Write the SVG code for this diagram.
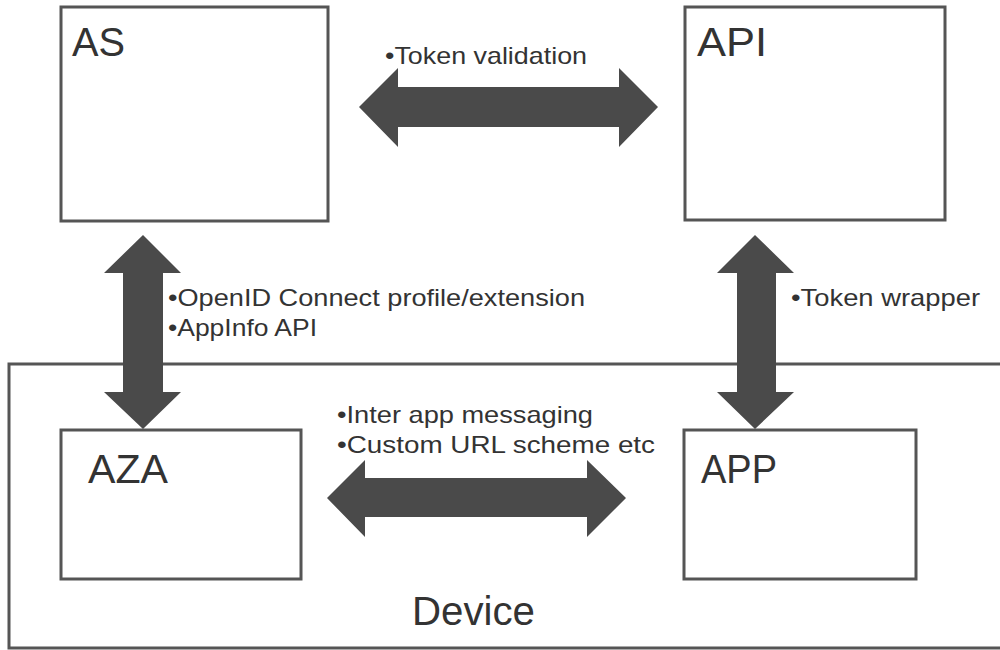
<svg xmlns="http://www.w3.org/2000/svg" width="1000" height="650" viewBox="0 0 1000 650">
<style>
.box{fill:#fff;stroke:#555;stroke-width:3}
.arrow{fill:#4a4a4a}
.big{font-family:"Liberation Sans",Arial,sans-serif;font-size:40px;fill:#333}
.lbl{font-family:"Liberation Sans",Arial,sans-serif;font-size:24px;fill:#333}
</style>
<rect width="1000" height="650" fill="#fff"/>
<g id="device">
<path class="box" d="M1003,364 L9,364 L9,648 L1003,648" fill="none"/>
<text class="big" x="412" y="625" textLength="123" lengthAdjust="spacingAndGlyphs">Device</text>
</g>
<g id="as">
<rect class="box" x="61" y="7" width="267" height="214"/>
<text class="big" x="72" y="56" textLength="53" lengthAdjust="spacingAndGlyphs">AS</text>
</g>
<g id="api">
<rect class="box" x="685" y="7" width="260" height="213"/>
<text class="big" x="697" y="56" textLength="70" lengthAdjust="spacingAndGlyphs">API</text>
</g>
<g id="aza">
<rect class="box" x="61" y="430" width="240" height="149"/>
<text class="big" x="88" y="483" textLength="80" lengthAdjust="spacingAndGlyphs">AZA</text>
</g>
<g id="app">
<rect class="box" x="684" y="430" width="232" height="149"/>
<text class="big" x="701" y="483" textLength="76" lengthAdjust="spacingAndGlyphs">APP</text>
</g>
<g id="connectors">
<polygon class="arrow" points="359,107 398,68 398,87 619,87 619,68 658,107 619,147 619,127 398,127 398,147"/>
<polygon class="arrow" points="143,235 181,273 163,273 163,392 181,392 143,429 104,392 123,392 123,273 104,273"/>
<polygon class="arrow" points="755,235 794,273 776,273 776,392 794,392 755,429 717,392 737,392 737,273 717,273"/>
<polygon class="arrow" points="327,498 365,460 365,478 587,478 587,460 626,498 587,537 587,517 365,517 365,537"/>
</g>
<g id="labels">
<text class="lbl" x="385" y="64" textLength="202" lengthAdjust="spacingAndGlyphs">•Token validation</text>
<text class="lbl" x="168" y="306" textLength="417" lengthAdjust="spacingAndGlyphs">•OpenID Connect profile/extension</text>
<text class="lbl" x="168" y="336" textLength="149" lengthAdjust="spacingAndGlyphs">•AppInfo API</text>
<text class="lbl" x="791" y="306" textLength="189" lengthAdjust="spacingAndGlyphs">•Token wrapper</text>
<text class="lbl" x="337" y="423" textLength="256" lengthAdjust="spacingAndGlyphs">•Inter app messaging</text>
<text class="lbl" x="337" y="453" textLength="318" lengthAdjust="spacingAndGlyphs">•Custom URL scheme etc</text>
</g>
</svg>
